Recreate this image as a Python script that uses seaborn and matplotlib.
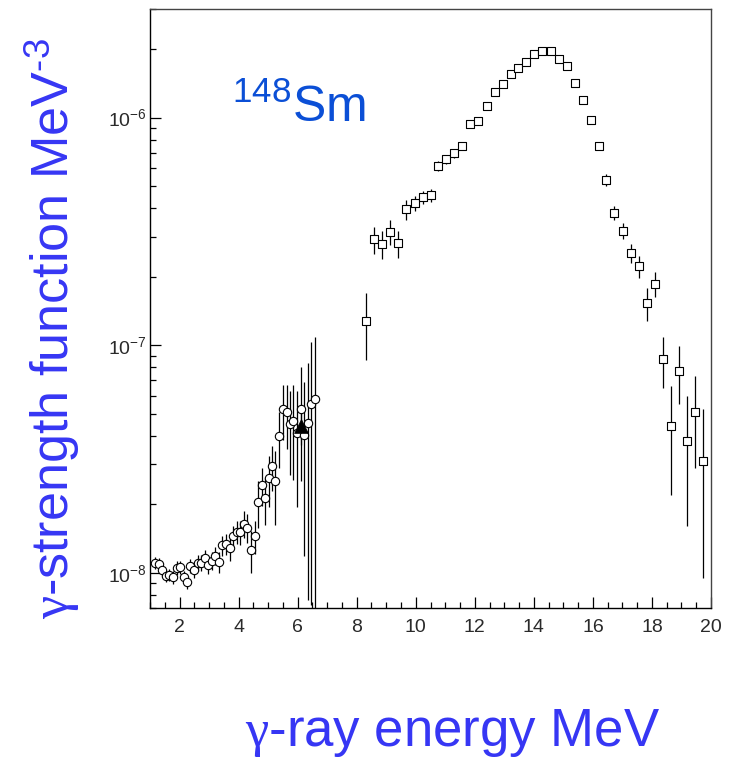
import numpy as np
import pandas as pd
import matplotlib
matplotlib.use("Agg")
import matplotlib.pyplot as plt
import seaborn as sns
from matplotlib.ticker import MultipleLocator, LogLocator, NullFormatter

# GDR region (open squares), strength in MeV^-3
gdr_energy = [8.33, 8.60, 8.87, 9.14, 9.41, 9.68, 9.96, 10.23, 10.50, 10.77,
              11.04, 11.31, 11.58, 11.85, 12.12, 12.40, 12.67, 12.94, 13.21, 13.48,
              13.75, 14.02, 14.29, 14.57, 14.84, 15.11, 15.38, 15.65, 15.92, 16.19,
              16.46, 16.73, 17.01, 17.28, 17.55, 17.82, 18.09, 18.36, 18.63, 18.90,
              19.18, 19.45, 19.72]
gdr_strength = [1.28e-7, 2.92e-7, 2.78e-7, 3.15e-7, 2.80e-7, 3.95e-7, 4.20e-7, 4.48e-7, 4.56e-7, 6.15e-7,
                6.58e-7, 6.97e-7, 7.53e-7, 9.38e-7, 9.64e-7, 1.13e-6, 1.29e-6, 1.41e-6, 1.56e-6, 1.65e-6,
                1.76e-6, 1.90e-6, 1.97e-6, 1.97e-6, 1.80e-6, 1.69e-6, 1.42e-6, 1.20e-6, 9.77e-7, 7.53e-7,
                5.32e-7, 3.81e-7, 3.18e-7, 2.54e-7, 2.22e-7, 1.53e-7, 1.86e-7, 8.67e-8, 4.40e-8, 7.71e-8,
                3.80e-8, 5.09e-8, 3.10e-8]
gdr_error = [4.2e-8, 4.0e-8, 4.0e-8, 4.0e-8, 3.9e-8, 3.9e-8, 3.1e-8, 3.0e-8, 3.0e-8, 3.0e-8,
             3.0e-8, 3.0e-8, 3.0e-8, 3.0e-8, 3.0e-8, 3.0e-8, 3.0e-8, 3.0e-8, 3.0e-8, 3.0e-8,
             3.0e-8, 3.0e-8, 3.0e-8, 3.0e-8, 3.0e-8, 3.0e-8, 3.0e-8, 3.0e-8, 3.0e-8, 3.0e-8,
             3.3e-8, 2.7e-8, 2.5e-8, 2.5e-8, 2.5e-8, 2.5e-8, 2.4e-8, 2.2e-8, 2.2e-8, 2.2e-8,
             2.2e-8, 2.2e-8, 2.15e-8]

# low-energy region (open circles)
low_energy = [1.16, 1.30, 1.41, 1.53, 1.66, 1.77, 1.91, 2.02, 2.14, 2.26,
              2.37, 2.50, 2.61, 2.74, 2.86, 2.97, 3.09, 3.21, 3.33, 3.45,
              3.59, 3.71, 3.82, 3.93, 4.06, 4.18, 4.29, 4.42, 4.54, 4.65,
              4.78, 4.91, 5.03, 5.14, 5.25, 5.38, 5.50, 5.63, 5.74, 5.85,
              5.98, 6.10, 6.21, 6.34, 6.46, 6.59]
low_strength = [1.104e-8, 1.096e-8, 1.025e-8, 0.971e-8, 0.977e-8, 0.955e-8, 1.052e-8, 1.060e-8, 0.958e-8, 0.910e-8,
                1.074e-8, 1.031e-8, 1.104e-8, 1.104e-8, 1.164e-8, 1.084e-8, 1.130e-8, 1.188e-8, 1.114e-8, 1.320e-8,
                1.337e-8, 1.280e-8, 1.452e-8, 1.511e-8, 1.507e-8, 1.644e-8, 1.579e-8, 1.262e-8, 1.446e-8, 2.05e-8,
                2.43e-8, 2.12e-8, 2.60e-8, 2.94e-8, 2.52e-8, 4.00e-8, 5.26e-8, 5.09e-8, 4.49e-8, 4.63e-8,
                4.11e-8, 5.26e-8, 4.03e-8, 4.56e-8, 5.52e-8, 5.78e-8]
low_error = [0.07e-8, 0.07e-8, 0.06e-8, 0.06e-8, 0.06e-8, 0.06e-8, 0.07e-8, 0.07e-8, 0.06e-8, 0.06e-8,
             0.08e-8, 0.08e-8, 0.09e-8, 0.09e-8, 0.10e-8, 0.10e-8, 0.10e-8, 0.11e-8, 0.12e-8, 0.13e-8,
             0.14e-8, 0.15e-8, 0.16e-8, 0.17e-8, 0.18e-8, 0.22e-8, 0.23e-8, 0.26e-8, 0.24e-8, 0.48e-8,
             0.47e-8, 0.50e-8, 0.65e-8, 0.65e-8, 0.90e-8, 1.10e-8, 1.44e-8, 1.60e-8, 1.80e-8, 2.07e-8,
             2.16e-8, 2.74e-8, 2.85e-8, 3.80e-8, 4.80e-8, 5.10e-8]

# single reference point (filled triangle)
tri_energy = [6.10]
tri_strength = [4.43e-8]
tri_error = [0.8e-8]

gdr = pd.DataFrame({"E": gdr_energy, "f": gdr_strength, "err": gdr_error})
low = pd.DataFrame({"E": low_energy, "f": low_strength, "err": low_error})
tri = pd.DataFrame({"E": tri_energy, "f": tri_strength, "err": tri_error})

sns.set_style("ticks")
plt.rcParams["font.family"] = ["Liberation Sans", "DejaVu Sans"]
plt.rcParams["mathtext.fontset"] = "custom"
plt.rcParams["mathtext.rm"] = "Liberation Sans"
plt.rcParams["mathtext.sf"] = "Liberation Serif"   # used for the gamma glyph
plt.rcParams["mathtext.default"] = "regular"

label_blue = "#3636f4"
nucleus_blue = "#0b4fd6"

fig = plt.figure(figsize=(7.33, 7.58), dpi=100)
ax = fig.add_axes([150 / 733, 150 / 758, 561 / 733, 599 / 758])

for d in (low, gdr, tri):
    ax.errorbar(d["E"], d["f"], yerr=d["err"], fmt="none", ecolor="black",
                elinewidth=0.9, capsize=0, zorder=2)

sns.scatterplot(data=low, x="E", y="f", ax=ax, marker="o", s=36,
                facecolor="white", edgecolor="black", linewidth=0.8, zorder=3)
sns.scatterplot(data=gdr, x="E", y="f", ax=ax, marker="s", s=37,
                facecolor="white", edgecolor="black", linewidth=0.8, zorder=3)
sns.scatterplot(data=tri, x="E", y="f", ax=ax, marker="^", s=100,
                color="black", edgecolor="black", linewidth=0.5, zorder=4)

ax.set_yscale("log")
ax.set_xlim(1, 20)
ax.set_ylim(7e-9, 3e-6)
ax.xaxis.set_major_locator(MultipleLocator(2))
ax.xaxis.set_minor_locator(MultipleLocator(0.5))
ax.yaxis.set_major_locator(LogLocator(base=10))
ax.yaxis.set_minor_locator(LogLocator(base=10, subs=np.arange(2, 10)))
ax.yaxis.set_minor_formatter(NullFormatter())

ax.tick_params(which="both", direction="in", top=False, right=False,
               colors="black", labelcolor="#2a2a2a", labelsize=14)
ax.tick_params(which="major", length=8, width=0.9)
ax.tick_params(which="minor", length=4.3, width=0.9)
ax.tick_params(axis="x", pad=8)
ax.tick_params(axis="y", pad=2)

for side in ("left", "bottom"):
    ax.spines[side].set_color("black")
    ax.spines[side].set_linewidth(1.0)
for side in ("top", "right"):
    ax.spines[side].set_visible(True)
    ax.spines[side].set_color("#444444")
    ax.spines[side].set_linewidth(1.0)

ax.set_xlabel("")
ax.set_ylabel("")

ax.text(0.146, 0.811, r"$^{148}$Sm", transform=ax.transAxes, fontsize=36,
        color=nucleus_blue, ha="left", va="baseline")

fig.text(453 / 733, 0.016, r"$\mathsf{\gamma}$-ray energy MeV", fontsize=38,
         color=label_blue, ha="center", va="baseline")
fig.text(69 / 733, 1 - 329 / 758, r"$\mathsf{\gamma}$-strength function MeV$^{\text{-3}}$",
         fontsize=37.5, color=label_blue, rotation=90, rotation_mode="anchor",
         ha="center", va="baseline")

fig.savefig("out.png", dpi=100)
